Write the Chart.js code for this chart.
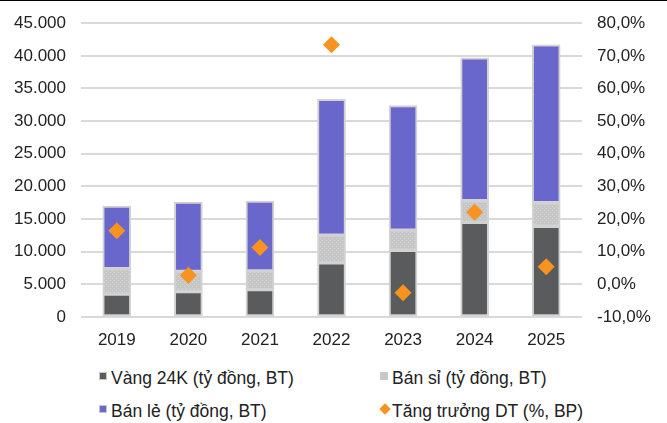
<!DOCTYPE html>
<html>
<head>
<meta charset="utf-8">
<script src="https://cdn.jsdelivr.net/npm/chart.js@4.4.1/dist/chart.umd.min.js"></script>
<style>
  body { margin: 0; background: #fff; font-family: "Liberation Sans", Arial, sans-serif; }
  #wrap { position: relative; width: 667px; height: 423px; overflow: hidden; border-top: 1px solid #000; box-sizing: border-box; }
  #box { position: absolute; left: 0; top: -3px; width: 667px; height: 362px; }
  .lg { position: absolute; font-size: 17.5px; color: #222; white-space: nowrap; line-height: 20px; }
  .sw { position: absolute; }
</style>
</head>
<body>
<div id="wrap">
  <div id="box"><canvas id="chart"></canvas></div>
  <div id="legend"></div>
</div>
<script>
// Revenue by segment (billion VND) and revenue growth (%)
const years = ['2019', '2020', '2021', '2022', '2023', '2024', '2025'];
const gold24k = [3500, 3900, 4200, 8300, 10200, 14500, 13900];
const wholesale = [3900, 3100, 2850, 4250, 3100, 3300, 3600];
const retail = [9600, 10600, 10700, 20800, 19100, 21900, 24200];
const growth = [16.4, 2.8, 11.3, 73.4, -2.6, 22.1, 5.4];

const seriesNames = ['Vàng 24K (tỷ đồng, BT)', 'Bán sỉ (tỷ đồng, BT)', 'Bán lẻ (tỷ đồng, BT)', 'Tăng trưởng DT (%, BP)'];

// dotted grey fill for the wholesale segment
function dotPattern() {
  const c = document.createElement('canvas');
  c.width = 4; c.height = 4;
  const g = c.getContext('2d');
  g.fillStyle = '#c6c6c6';
  g.fillRect(0, 0, 4, 4);
  g.fillStyle = '#d6d6d6';
  g.fillRect(0, 0, 1, 1);
  g.fillRect(2, 2, 1, 1);
  return g.createPattern(c, 'repeat');
}

const barStyle = { borderColor: '#d2d2d2', borderWidth: 2, borderSkipped: false, barThickness: 28, yAxisID: 'y', order: 1 };

const fmtThousands = v => String(v).replace(/\B(?=(\d{3})+(?!\d))/g, '.');
const fmtPct = v => v.toFixed(1).replace('.', ',') + '%';

const tickFont = { family: '"Liberation Sans", Arial, sans-serif', size: 17 };

const chart = new Chart(document.getElementById('chart'), {
  type: 'bar',
  data: {
    labels: years,
    datasets: [
      { ...barStyle, label: seriesNames[0], data: gold24k, backgroundColor: '#5a5b5d' },
      { ...barStyle, label: seriesNames[1], data: wholesale, backgroundColor: dotPattern() },
      { ...barStyle, label: seriesNames[2], data: retail, backgroundColor: '#6a67cc' },
      {
        type: 'line', label: seriesNames[3], data: growth, yAxisID: 'y1', order: 0,
        showLine: false, pointStyle: 'rectRot', pointRadius: 8.5, pointHoverRadius: 8.5,
        backgroundColor: '#f7931e', borderColor: '#f7931e', borderWidth: 0
      }
    ]
  },
  options: {
    responsive: true,
    maintainAspectRatio: false,
    animation: false,
    layout: { padding: { top: 14, bottom: 0, left: 0, right: 0 } },
    plugins: { legend: { display: false }, tooltip: { enabled: false } },
    scales: {
      x: {
        stacked: true,
        grid: { display: false, drawTicks: false },
        border: { display: false },
        ticks: { color: '#222', font: tickFont, padding: 13 },
        afterFit: s => { s.height = 43; }
      },
      y: {
        stacked: true,
        min: 0, max: 45000,
        grid: { color: '#d9d9d9', lineWidth: 2, drawTicks: false },
        border: { display: false },
        ticks: { stepSize: 5000, color: '#222', font: tickFont, padding: 15, callback: v => fmtThousands(v) },
        afterFit: s => { s.width = 81; }
      },
      y1: {
        position: 'right',
        min: -10, max: 80,
        grid: { display: false, drawTicks: false },
        border: { display: false },
        ticks: { stepSize: 10, color: '#222', font: tickFont, padding: 15, callback: v => fmtPct(v) },
        afterFit: s => { s.width = 85; }
      }
    }
  }
});

// two-column legend below the plot
const legendPos = [
  { x: 99, y: 377 }, { x: 380, y: 377 },
  { x: 99, y: 410 }, { x: 380, y: 410 }
];
const swatch = ['#5a5b5d', '#c8c8c8', '#6a67cc', '#f7931e'];
const legendEl = document.getElementById('legend');
chart.data.datasets.forEach((ds, di) => {
  const p = legendPos[di];
  const sw = document.createElement('div');
  sw.className = 'sw';
  if (di === 3) {
    Object.assign(sw.style, { left: (p.x + 1) + 'px', top: (p.y - 6) + 'px', width: '8px', height: '8px', background: swatch[di], transform: 'rotate(45deg)' });
  } else {
    Object.assign(sw.style, { left: p.x + 'px', top: (p.y - 6) + 'px', width: '6px', height: '6px', background: swatch[di], border: '1px solid #c8c8c8' });
  }
  const tx = document.createElement('div');
  tx.className = 'lg';
  tx.textContent = ds.label;
  Object.assign(tx.style, { left: (p.x + 12) + 'px', top: (p.y - 10) + 'px' });
  legendEl.appendChild(sw);
  legendEl.appendChild(tx);
});
</script>
</body>
</html>
